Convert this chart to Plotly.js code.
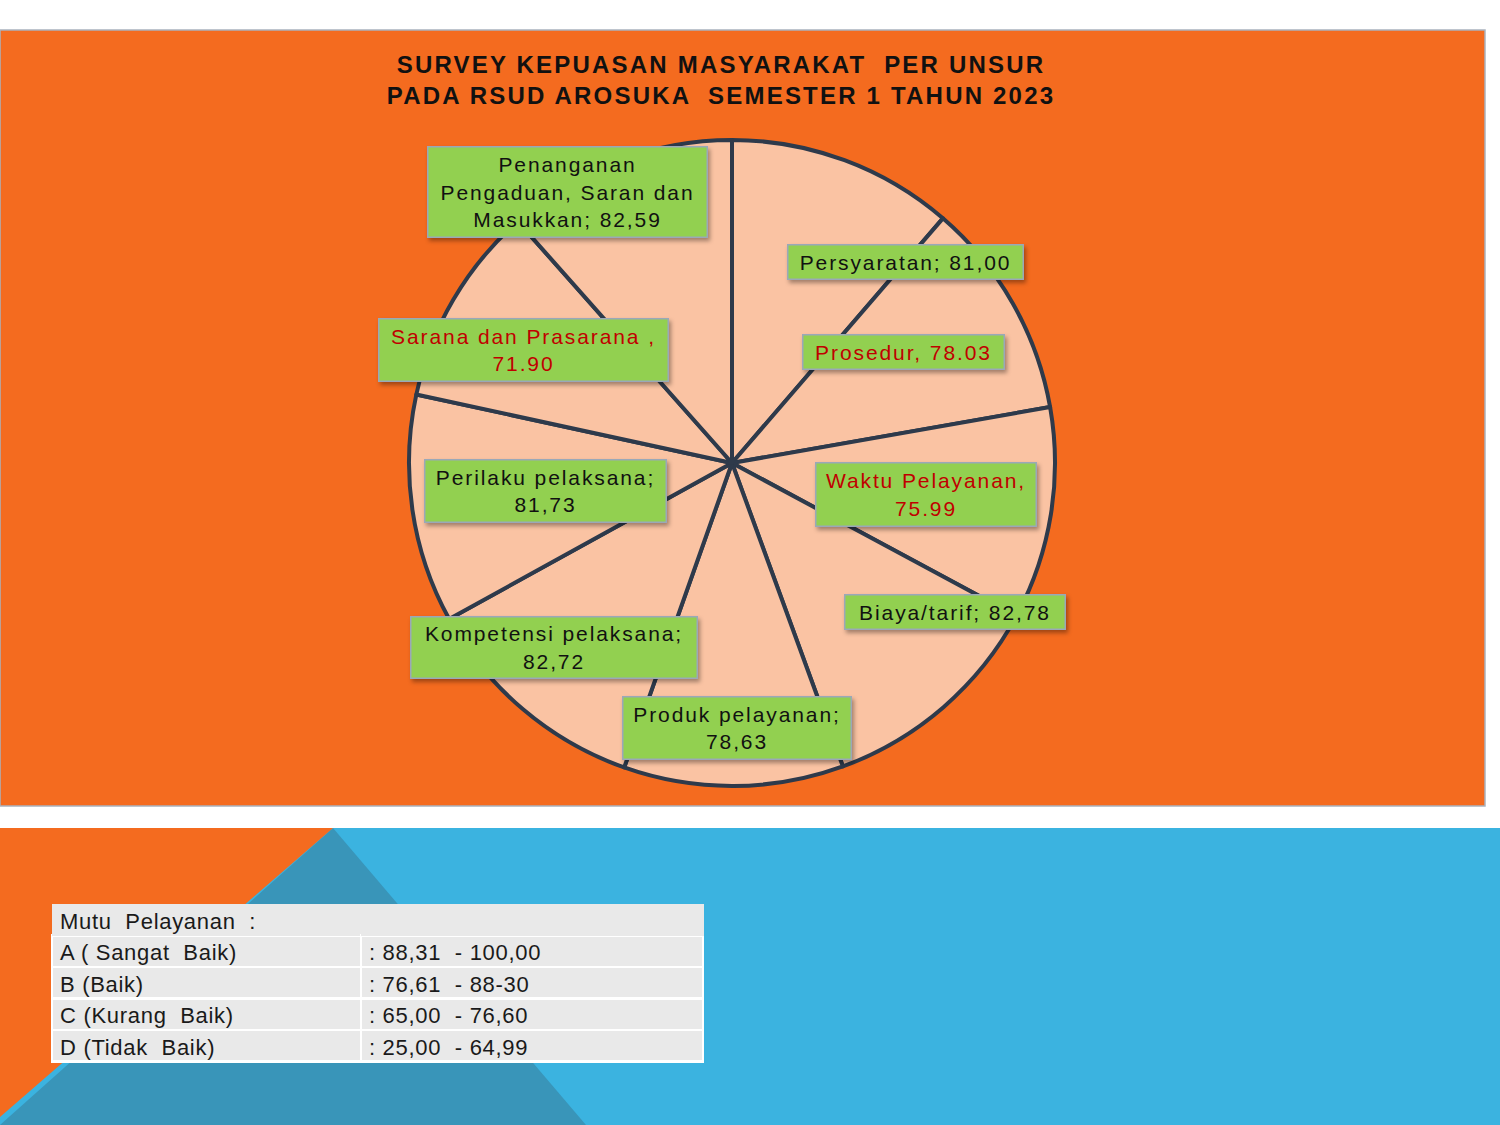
<!DOCTYPE html>
<html>
<head>
<meta charset="utf-8">
<script src="https://cdn.plot.ly/plotly-3.0.1.min.js"></script>
<style>
  html, body { margin: 0; padding: 0; background: #ffffff; }
  #chart { width: 1500px; height: 1125px; }
  .gtitle { letter-spacing: 2.2px; }
  .annotation-text { letter-spacing: 1.9px; }
  .annotation rect.bg { filter: drop-shadow(2px 3px 2px rgba(0,0,0,0.35)); }
  .table text { letter-spacing: 0.7px; }
</style>
</head>
<body>
<div id="chart"></div>
<script>
// ---------- data ----------
const categories = ['Persyaratan', 'Prosedur', 'Waktu Pelayanan', 'Biaya/tarif', 'Produk pelayanan',
  'Kompetensi pelaksana', 'Perilaku pelaksana', 'Sarana dan Prasarana', 'Penanganan Pengaduan, Saran dan Masukkan'];
const values = [81.00, 78.03, 75.99, 82.78, 78.63, 82.72, 81.73, 71.90, 82.59];
const labelPrefix = ['Persyaratan; ', 'Prosedur, ', 'Waktu Pelayanan,<br>', 'Biaya/tarif; ', 'Produk pelayanan;<br>',
  'Kompetensi pelaksana;<br>', 'Perilaku pelaksana;<br>', 'Sarana dan Prasarana ,<br>', 'Penanganan<br>Pengaduan, Saran dan<br>Masukkan; '];
const decimalMark = [',', '.', '.', ',', ',', ',', ',', '.', ','];
const highlighted = [false, true, true, false, false, false, false, true, false];

const titleLines = ['SURVEY KEPUASAN MASYARAKAT  PER UNSUR', 'PADA RSUD AROSUKA  SEMESTER 1 TAHUN 2023'];

const mutuHeader = ['Mutu  Pelayanan  :', ''];
const mutuGrades = ['A ( Sangat  Baik)', 'B (Baik)', 'C (Kurang  Baik)', 'D (Tidak  Baik)'];
const mutuRanges = [': 88,31  - 100,00', ': 76,61  - 88-30', ': 65,00  - 76,60', ': 25,00  - 64,99'];

// ---------- layout helpers (positions in px of the 1500x1125 page) ----------
const W = 1500, H = 1125;
const px = x => x / W;
const py = y => 1 - y / H;

// label box centres and sizes, in slice order
const labelBoxes = [
  {cx: 905, cy: 262, w: 236, h: 35},
  {cx: 903, cy: 352, w: 202, h: 35},
  {cx: 926, cy: 495, w: 221, h: 64},
  {cx: 955, cy: 612, w: 221, h: 35},
  {cx: 737, cy: 728, w: 229, h: 63},
  {cx: 554, cy: 647, w: 287, h: 62},
  {cx: 545, cy: 491, w: 242, h: 63},
  {cx: 523, cy: 350, w: 290, h: 63},
  {cx: 567, cy: 192, w: 280, h: 91}
];

const annotations = values.map((v, i) => {
  const b = labelBoxes[i];
  let num = v.toFixed(2);
  if (decimalMark[i] === ',') num = num.replace('.', ',');
  return {
    xref: 'paper', yref: 'paper',
    x: px(b.cx), y: py(b.cy), xanchor: 'center', yanchor: 'middle',
    text: labelPrefix[i] + num,
    showarrow: false,
    width: b.w - 4, height: b.h - 4,
    align: 'center', valign: 'middle',
    bgcolor: '#92D050', bordercolor: '#9AA8B8', borderwidth: 1.5, borderpad: 1,
    font: {family: 'Liberation Sans, Arial, sans-serif', size: 21,
           color: highlighted[i] ? '#C00000' : '#111111'}
  };
});

const cx = 732, cy = 463, R = 323;

const pie = {
  type: 'pie',
  labels: categories,
  values: values,
  sort: false,
  direction: 'clockwise',
  rotation: 0,
  textinfo: 'none',
  hoverinfo: 'label+value',
  showlegend: false,
  marker: {colors: values.map(() => '#FAC3A3'), line: {color: '#2E3A4B', width: 4}},
  domain: {x: [px(cx - R), px(cx + R)], y: [py(cy + R), py(cy - R)]}
};

const tableFont = {family: 'Liberation Sans Narrow, Arial Narrow, Liberation Sans, sans-serif', size: 22, color: '#1a1a1a'};
const table = {
  type: 'table',
  domain: {x: [px(52), px(703)], y: [py(1064), py(904)]},
  columnwidth: [309, 342],
  header: {
    values: mutuHeader,
    align: 'left', height: 31.5,
    fill: {color: '#E9E9E9'}, line: {color: '#E9E9E9', width: 1},
    font: tableFont
  },
  cells: {
    values: [mutuGrades, mutuRanges],
    align: 'left', height: 31.5,
    fill: {color: '#E9E9E9'}, line: {color: '#ffffff', width: 2.5},
    font: tableFont
  }
};

const shapes = [
  // orange chart panel
  {type: 'rect', xref: 'paper', yref: 'paper', x0: 0, x1: px(1485), y0: py(806), y1: py(30),
   fillcolor: '#F46B1F', line: {color: '#A9B3BF', width: 1.5}, layer: 'below'},
  // bottom blue band
  {type: 'rect', xref: 'paper', yref: 'paper', x0: 0, x1: 1, y0: 0, y1: py(828),
   fillcolor: '#3BB3E0', line: {width: 0}, layer: 'below'},
  // teal triangle
  {type: 'path', xref: 'paper', yref: 'paper',
   path: `M ${px(333)} ${py(828)} L ${px(586)} ${py(1125)} L 0 ${py(1125)} Z`,
   fillcolor: '#3995B9', line: {width: 0}, layer: 'below'},
  // orange triangle
  {type: 'path', xref: 'paper', yref: 'paper',
   path: `M 0 ${py(828)} L ${px(333)} ${py(828)} L 0 ${py(1117)} Z`,
   fillcolor: '#F46B1F', line: {width: 0}, layer: 'below'}
];

const layout = {
  width: W, height: H,
  margin: {l: 0, r: 0, t: 0, b: 0},
  paper_bgcolor: '#ffffff',
  title: {
    text: titleLines.join('<br>'),
    x: px(721), xanchor: 'center', xref: 'paper',
    y: py(73), yanchor: 'middle', yref: 'paper',
    font: {family: 'Liberation Sans Narrow, Arial Narrow, Liberation Sans, sans-serif', size: 24, color: '#111111', weight: 'bold', lineposition: 'none'}
  },
  shapes: shapes,
  annotations: annotations
};

Plotly.newPlot('chart', [pie, table], layout, {displayModeBar: false, staticPlot: true});
</script>
</body>
</html>
